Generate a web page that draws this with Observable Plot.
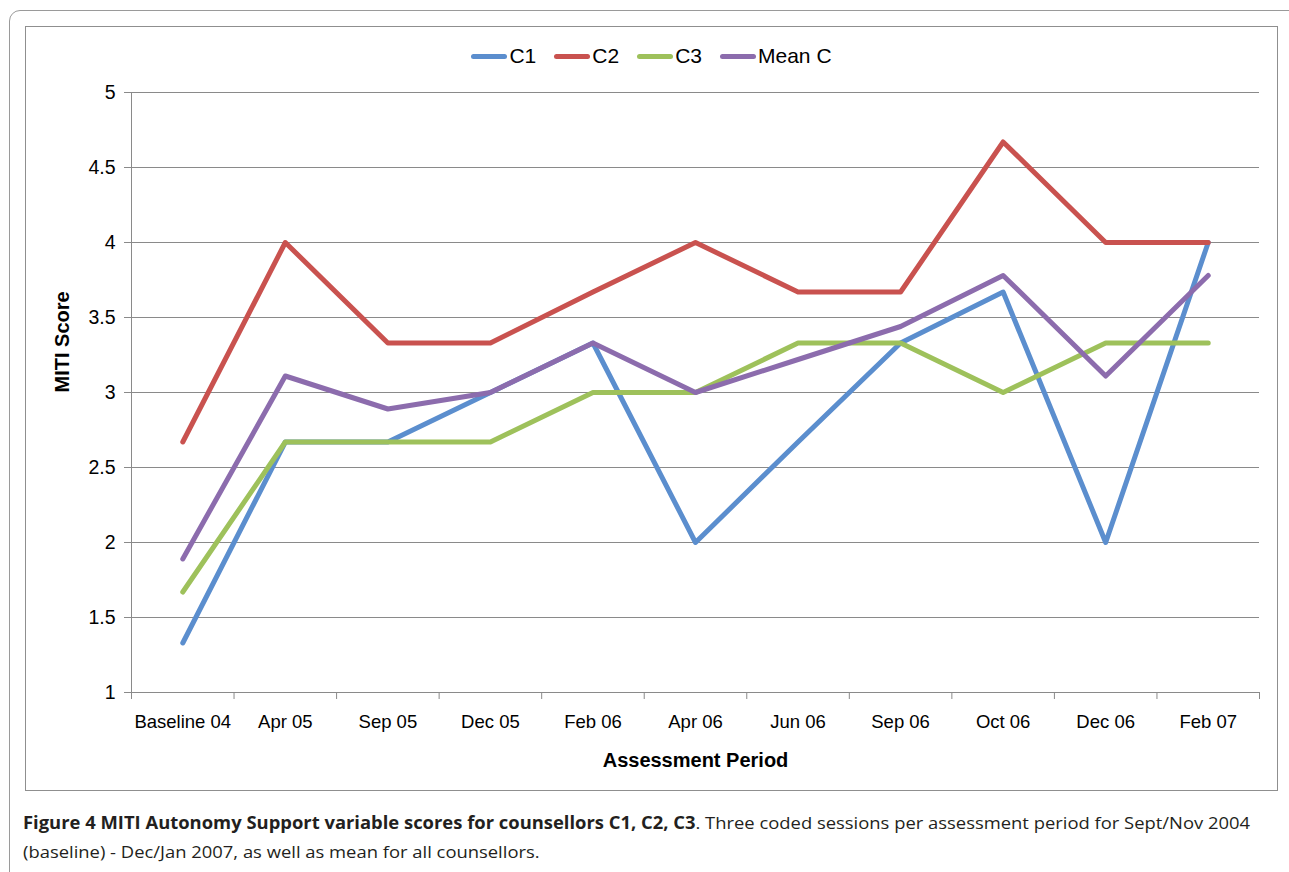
<!DOCTYPE html>
<html>
<head>
<meta charset="utf-8">
<script src="https://cdn.jsdelivr.net/npm/d3@7"></script>
<script src="https://cdn.jsdelivr.net/npm/@observablehq/plot@0.6"></script>
<style>
  html, body { margin: 0; padding: 0; background: #fff; overflow: hidden; }
  body { width: 1289px; height: 872px; position: relative; font-family: "Liberation Sans", Arial, sans-serif; }
  #outer { position: absolute; left: 9px; top: 10px; width: 1300px; height: 900px; border: 1px solid #9a9a9a; border-radius: 11px; box-sizing: border-box; }
  #inner { position: absolute; left: 25px; top: 26px; width: 1253px; height: 765px; border: 1px solid #8f8f8f; box-sizing: border-box; }
  #chart { position: absolute; left: 0; top: 0; }
  #legend { position: absolute; top: 44px; left: 0; width: 1289px; display: flex; justify-content: center; font-size: 21px; color: #000; padding-left: 14px; box-sizing: border-box; }
  .item { display: flex; align-items: center; margin: 0 9px; }
  .sw { width: 36px; height: 5px; border-radius: 3px; margin-right: 2px; }
  #caption { position: absolute; left: 23px; top: 808px; font-family: "Open Sans", sans-serif; font-size: 17px; line-height: 29px; color: #231f20; transform-origin: 0 0; white-space: nowrap; }
  #caption b { font-weight: 700; }
</style>
</head>
<body>
<div id="outer"></div>
<div id="inner"></div>
<div id="chart"></div>
<div id="legend"></div>
<div id="caption"><b>Figure 4 MITI Autonomy Support variable scores for counsellors C1, C2, C3</b>. Three coded sessions per assessment period for Sept/Nov 2004<br>(baseline) - Dec/Jan 2007, as well as mean for all counsellors.</div>
<script>
const periods = ["Baseline 04", "Apr 05", "Sep 05", "Dec 05", "Feb 06", "Apr 06", "Jun 06", "Sep 06", "Oct 06", "Dec 06", "Feb 07"];
const seriesNames = ["C1", "C2", "C3", "Mean C"];
const seriesColors = ["#5b8ece", "#c9524f", "#9ec15b", "#8c6cad"];
const c1 = [1.33, 2.67, 2.67, 3.0, 3.33, 2.0, 2.67, 3.33, 3.67, 2.0, 4.0];
const c2 = [2.67, 4.0, 3.33, 3.33, 3.67, 4.0, 3.67, 3.67, 4.67, 4.0, 4.0];
const c3 = [1.67, 2.67, 2.67, 2.67, 3.0, 3.0, 3.33, 3.33, 3.0, 3.33, 3.33];
const meanC = [1.89, 3.11, 2.89, 3.0, 3.33, 3.0, 3.22, 3.44, 3.78, 3.11, 3.78];
const yTicks = [1, 1.5, 2, 2.5, 3, 3.5, 4, 4.5, 5];

const seriesValues = [c1, c2, c3, meanC];
const data = [];
seriesNames.forEach((s, k) => seriesValues[k].forEach((v, i) => data.push({series: s, i, v})));
const boundaries = d3.range(periods.length + 1).map(i => i - 0.5);

const plot = Plot.plot({
  width: 1289,
  height: 800,
  marginLeft: 131,
  marginRight: 30,
  marginTop: 92,
  marginBottom: 108,
  style: {fontFamily: "'Liberation Sans', Arial, sans-serif", color: "#000", background: "transparent"},
  x: {type: "linear", domain: [-0.5, periods.length - 0.5]},
  y: {domain: [1, 5]},
  color: {domain: seriesNames, range: seriesColors},
  marks: [
    Plot.gridY(yTicks, {stroke: "#8a8a8a", strokeOpacity: 1, strokeWidth: 1}),
    Plot.axisY(yTicks, {tickSize: 7, tickPadding: 9, fontSize: 19.5, stroke: "#8a8a8a", tickFormat: d => String(d), label: null}),
    Plot.ruleX([-0.5], {stroke: "#8a8a8a"}),
    Plot.ruleY([1], {stroke: "#8a8a8a"}),
    Plot.axisX(boundaries, {tickSize: 7, tickFormat: () => "", stroke: "#8a8a8a", label: null}),
    Plot.axisX(d3.range(periods.length), {tickSize: 0, tickPadding: 22, fontSize: 18.5, tickFormat: i => periods[i], label: null}),
    Plot.line(data, {x: "i", y: "v", z: "series", stroke: "series", strokeWidth: 5, strokeLinejoin: "round", strokeLinecap: "round"}),
    Plot.text(["MITI Score"], {frameAnchor: "left", dx: -69, rotate: -90, fontSize: 20, fontWeight: "bold"}),
    Plot.text(["Assessment Period"], {frameAnchor: "bottom", dy: 74, fontSize: 20, fontWeight: "bold"})
  ]
});
document.getElementById("chart").appendChild(plot);

const legend = document.getElementById("legend");
seriesNames.forEach((s, k) => {
  const it = document.createElement("div");
  it.className = "item";
  it.innerHTML = `<span class="sw" style="background:${seriesColors[k]}"></span><span>${s}</span>`;
  legend.appendChild(it);
});

// fit caption width to reference (first line ends near x=1250)
const cap = document.getElementById("caption");
const w = cap.getBoundingClientRect().width;
cap.style.transform = `scaleX(${1227 / w})`;
</script>
</body>
</html>
